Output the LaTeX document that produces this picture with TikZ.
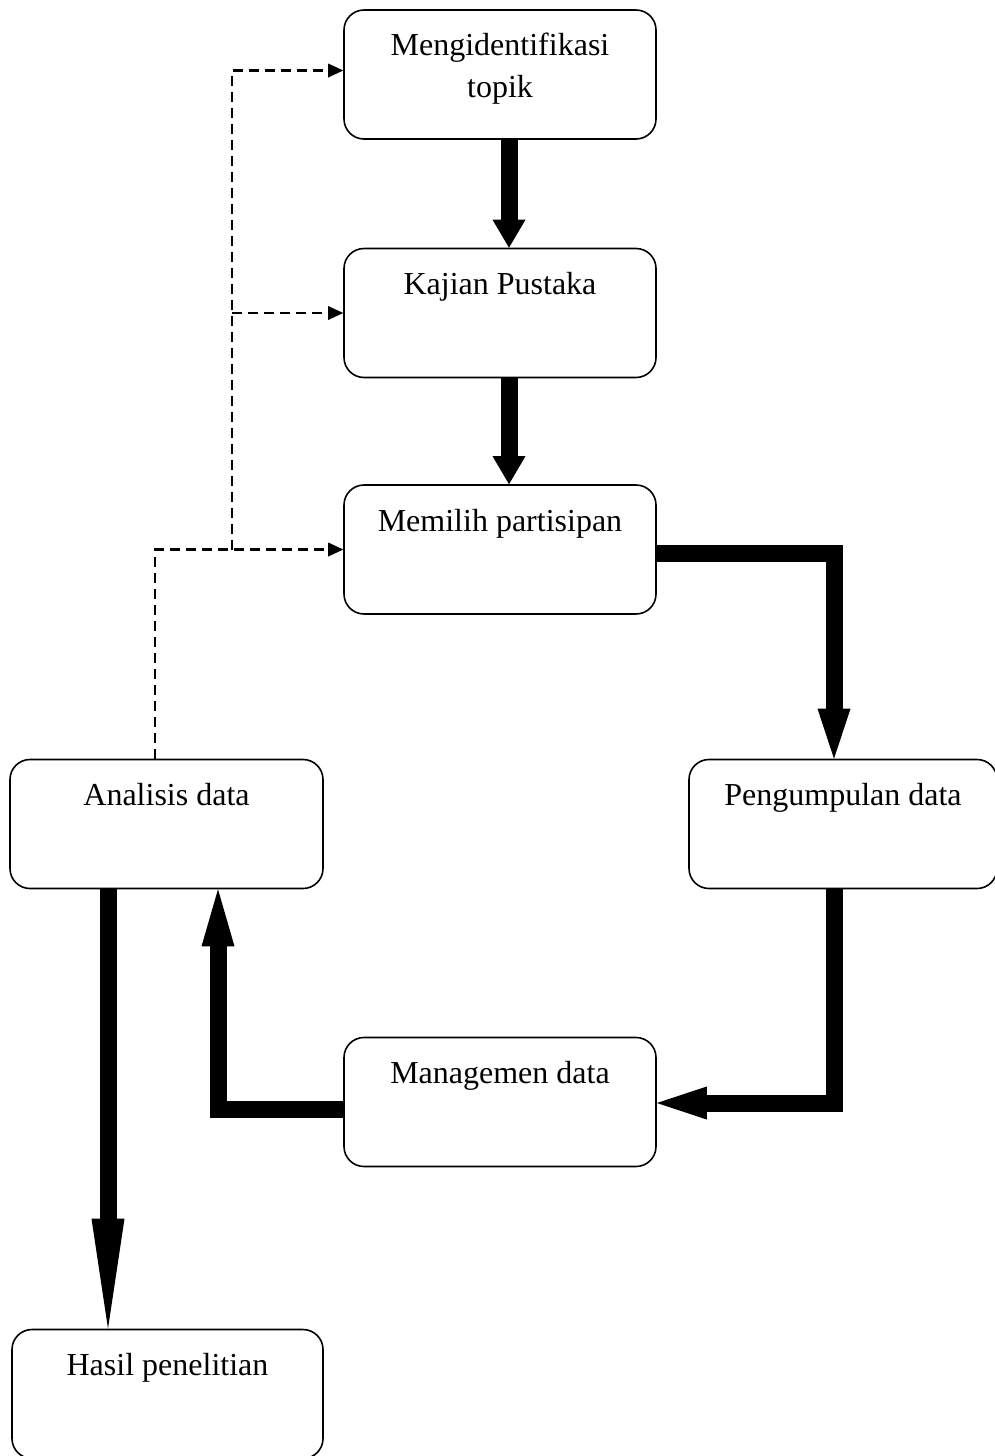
\documentclass[tikz,border=0pt]{standalone}
\usepackage{fontspec}
\setmainfont{Liberation Serif}
\usetikzlibrary{arrows.meta}
\begin{document}
\begin{tikzpicture}[x=1pt,y=-1pt,
  box/.style={draw,line width=1.6pt,rounded corners=20pt,minimum width=312pt,minimum height=129pt,inner sep=0pt},
  lbl/.style={anchor=north,inner sep=0pt,align=center,font=\fontsize{32}{42}\selectfont},
  fat/.style={line width=17pt,-{Triangle[length=28pt,width=33pt,line width=0pt]}},
  dsh/.style={line width=2.3pt,dash pattern=on 10pt off 6pt,-{Triangle[length=15pt,width=14pt,line width=0pt]}}]
\useasboundingbox (0,0) rectangle (995,1456);
% boxes
\node[box] (b1) at (500,74.5) {};
\node[box] (b2) at (500,313) {};
\node[box] (b3) at (500,549.5) {};
\node[box,minimum width=313pt] (an) at (166.5,824) {};
\node[box,minimum width=308pt] (pg) at (843,824) {};
\node[box] (mg) at (500,1102) {};
\node[box,minimum width=311pt] (hs) at (167.5,1394) {};
% labels
\node[lbl] (t1) at ([yshift=-24pt]b1.north) {Mengidentifikasi\\topik};
\node[lbl] (t2) at ([yshift=-24pt]b2.north) {Kajian Pustaka};
\node[lbl] (t3) at ([yshift=-25pt]b3.north) {Memilih partisipan};
\node[lbl] (t4) at ([yshift=-24pt]an.north) {Analisis data};
\node[lbl] (t5) at ([yshift=-24pt]pg.north) {Pengumpulan data};
\node[lbl] (t6) at ([yshift=-24pt]mg.north) {Managemen data};
\node[lbl] (t7) at ([yshift=-24pt]hs.north) {Hasil penelitian};
% helper columns
\coordinate (v1) at (509,0);
\coordinate (v2) at (834,0);
\coordinate (v3) at (218,0);
\coordinate (v4) at (108,0);
\coordinate (dv) at (232,0);
\coordinate (dl) at (155,0);
% thick arrows
\draw[fat] (b1.south -| v1) -- (b2.north -| v1);
\draw[fat] (b2.south -| v1) -- (b3.north -| v1);
\draw[fat,-{Triangle[length=50pt,width=33pt,line width=0pt]}] ([yshift=-4pt]b3.east) -| (pg.north -| v2);
\draw[fat,-{Triangle[length=50pt,width=33pt,line width=0pt]}] (pg.south -| v2) |- ([yshift=-1pt]mg.east);
\draw[fat,-{Triangle[length=57pt,width=33pt,line width=0pt]}] ([yshift=-7pt]mg.west) -| (an.south -| v3);
\draw[fat,-{Triangle[length=110pt,width=33pt,line width=0pt]}] (an.south -| v4) -- (hs.north -| v4);
% dashed arrows
\draw[dsh] (an.north -| dl) |- (b3.west);
\draw[dsh] (b3.west -| dv) |- ([yshift=4pt]b1.west);
\draw[dsh] (b2.west -| dv) -- (b2.west);
\end{tikzpicture}
\end{document}
